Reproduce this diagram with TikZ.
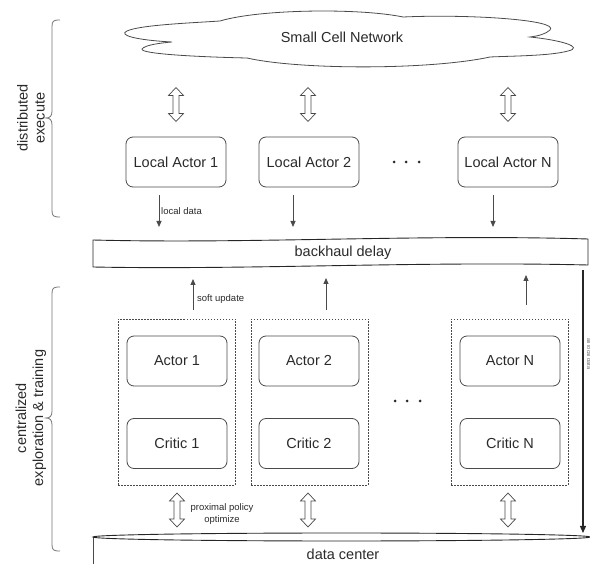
\documentclass[tikz,border=0pt]{standalone}
\usepackage{fontspec}
\setmainfont{Liberation Sans}
\usetikzlibrary{arrows.meta,calc}
\definecolor{ln}{HTML}{4A4A4A}
\definecolor{tx}{HTML}{2A2A2A}
\begin{document}
\begin{tikzpicture}[x=1pt,y=-1pt,
  font=\fontsize{14.5}{17}\selectfont, text=tx,
  box/.style={draw=ln, rounded corners=7pt, minimum width=100pt, minimum height=50pt, line width=0.8pt, inner sep=0pt},
  grp/.style={draw=ln, dash pattern=on 1.5pt off 1.5pt, line width=0.7pt, minimum width=117pt, minimum height=166pt, inner sep=0pt},
  arr/.style={draw=ln, line width=0.8pt, -{Triangle[width=5pt,length=6pt]}},
  small/.style={font=\fontsize{9.5}{12}\selectfont, text=tx, inner sep=1pt},
  brc/.style={draw=black!55, line width=0.8pt},
  dbl/.pic={\draw[ln, line width=0.7pt, line join=miter] (0,-17) -- (7.5,-9) -- (3,-9) -- (3,9) -- (7.5,9) -- (0,17) -- (-7.5,9) -- (-3,9) -- (-3,-9) -- (-7.5,-9) -- cycle;}
]
\useasboundingbox (0,0) rectangle (590,564);

% cloud
\draw[ln, line width=0.8pt] (172,42) .. controls (135,40) and (118,35) .. (127,31)
  .. controls (140,25) and (190,23) .. (220,21)
  .. controls (260,9) and (360,8) .. (403,17)
  .. controls (470,14) and (560,20) .. (550,30)
  .. controls (546,34) and (538,36) .. (530,37)
  .. controls (560,40) and (585,47) .. (568,51)
  .. controls (550,56) and (510,56) .. (490,57)
  .. controls (430,70) and (300,70) .. (247,58)
  .. controls (200,57) and (140,54) .. (142,49)
  .. controls (145,45) and (160,43) .. (172,42) -- cycle;
\node (cloud) at (342,37) {Small Cell Network};

% upper double arrows
\pic at (176,104.5) {dbl};
\pic at (308,104.5) {dbl};
\pic at (508,104.5) {dbl};

% local actors
\node[box] (la1) at (176,162) {Local Actor 1};
\node[box] (la2) at (309,162) {Local Actor 2};
\node[box] (laN) at (508,162) {Local Actor N};
\foreach \x in {394,406,419} \fill[tx] (\x,162) circle (1.5pt);

% backhaul band
\draw[black!85, line width=0.9pt] (93,240) .. controls (250,244) and (420,234) .. (588,239)
  -- (588,265) .. controls (420,261) and (250,270) .. (93,267) -- cycle;
\node (bh) at (343,253) {backhaul delay};

% local data arrows
\coordinate (d1) at (159,227);
\coordinate (d2) at (293,227);
\coordinate (d3) at (493,227);
\draw[arr] ([xshift=-17pt,yshift=-8pt]la1.south) -- (d1);
\draw[arr] ([xshift=-16pt,yshift=-8pt]la2.south) -- (d2);
\draw[arr] ([xshift=-15pt,yshift=-8pt]laN.south) -- (d3);
\node[small, anchor=west] (ld) at (160,211) {local data};

% groups
\node[grp] (g1) at (176.5,402) {};
\node[grp] (g2) at (309.5,402) {};
\node[grp] (g3) at (509.5,402) {};
\node[box] (a1) at (177,361) {Actor 1};
\node[box] (c1) at (177,443.5) {Critic 1};
\node[box] (a2) at (309,361) {Actor 2};
\node[box] (c2) at (309,443.5) {Critic 2};
\node[box] (aN) at (510,361) {Actor N};
\node[box] (cN) at (510,443.5) {Critic N};
\foreach \x in {395,407,420} \fill[tx] (\x,401) circle (1.5pt);

% soft update arrows
\coordinate (u1) at (193,279);
\coordinate (u2) at (326,278);
\coordinate (u3) at (526,275);
\draw[arr] ([xshift=16.5pt,yshift=9pt]g1.north) -- (u1);
\draw[arr] ([xshift=16.5pt,yshift=9pt]g2.north) -- (u2);
\draw[arr] ([xshift=16.5pt,yshift=14pt]g3.north) -- (u3);
\node[small, anchor=west] (su) at (196,299) {soft update};

% lower double arrows
\pic at (177,510) {dbl};
\pic at (308,510) {dbl};
\pic at (508,510) {dbl};
\node[small, align=center] (ppo) at (222,514) {proximal policy\\optimize};

% data center
\draw[ln, line width=0.9pt] (93,537) -- (93,564) (590,537) -- (590,564);
\draw[black!85, line width=0.9pt] (341.5,537) ellipse [x radius=248.5pt, y radius=4pt];
\node (dc) at (343,554) {data center};

% long arrow
\coordinate (lt) at (583,270);
\coordinate (lb) at (583,533);
\draw[black!85, line width=1.2pt, -{Triangle[width=6pt,length=7pt]}] (lt) -- (lb);
\node[font=\fontsize{5.5}{6}\selectfont, text=black!60, rotate=-90, inner sep=0pt] (all) at (589,354) {all local data};

% braces
\draw[brc] (60,20) .. controls (53,20) and (52,21) .. (52,27) -- (52,111)
  .. controls (52,116) and (50,118) .. (46,118)
  .. controls (50,118) and (52,120) .. (52,125) -- (52,210)
  .. controls (52,216) and (53,217) .. (60,217);
\node[rotate=90, align=center] (de) at (31,118) {distributed\\execute};

\draw[brc] (60,287) .. controls (53,287) and (52,288) .. (52,294) -- (52,411)
  .. controls (52,416) and (50,418) .. (46,418)
  .. controls (50,418) and (52,420) .. (52,425) -- (52,544)
  .. controls (52,550) and (53,551) .. (60,551);
\node[rotate=90, align=center] (ce) at (31,418) {centralized\\exploration \& training};
\end{tikzpicture}
\end{document}
